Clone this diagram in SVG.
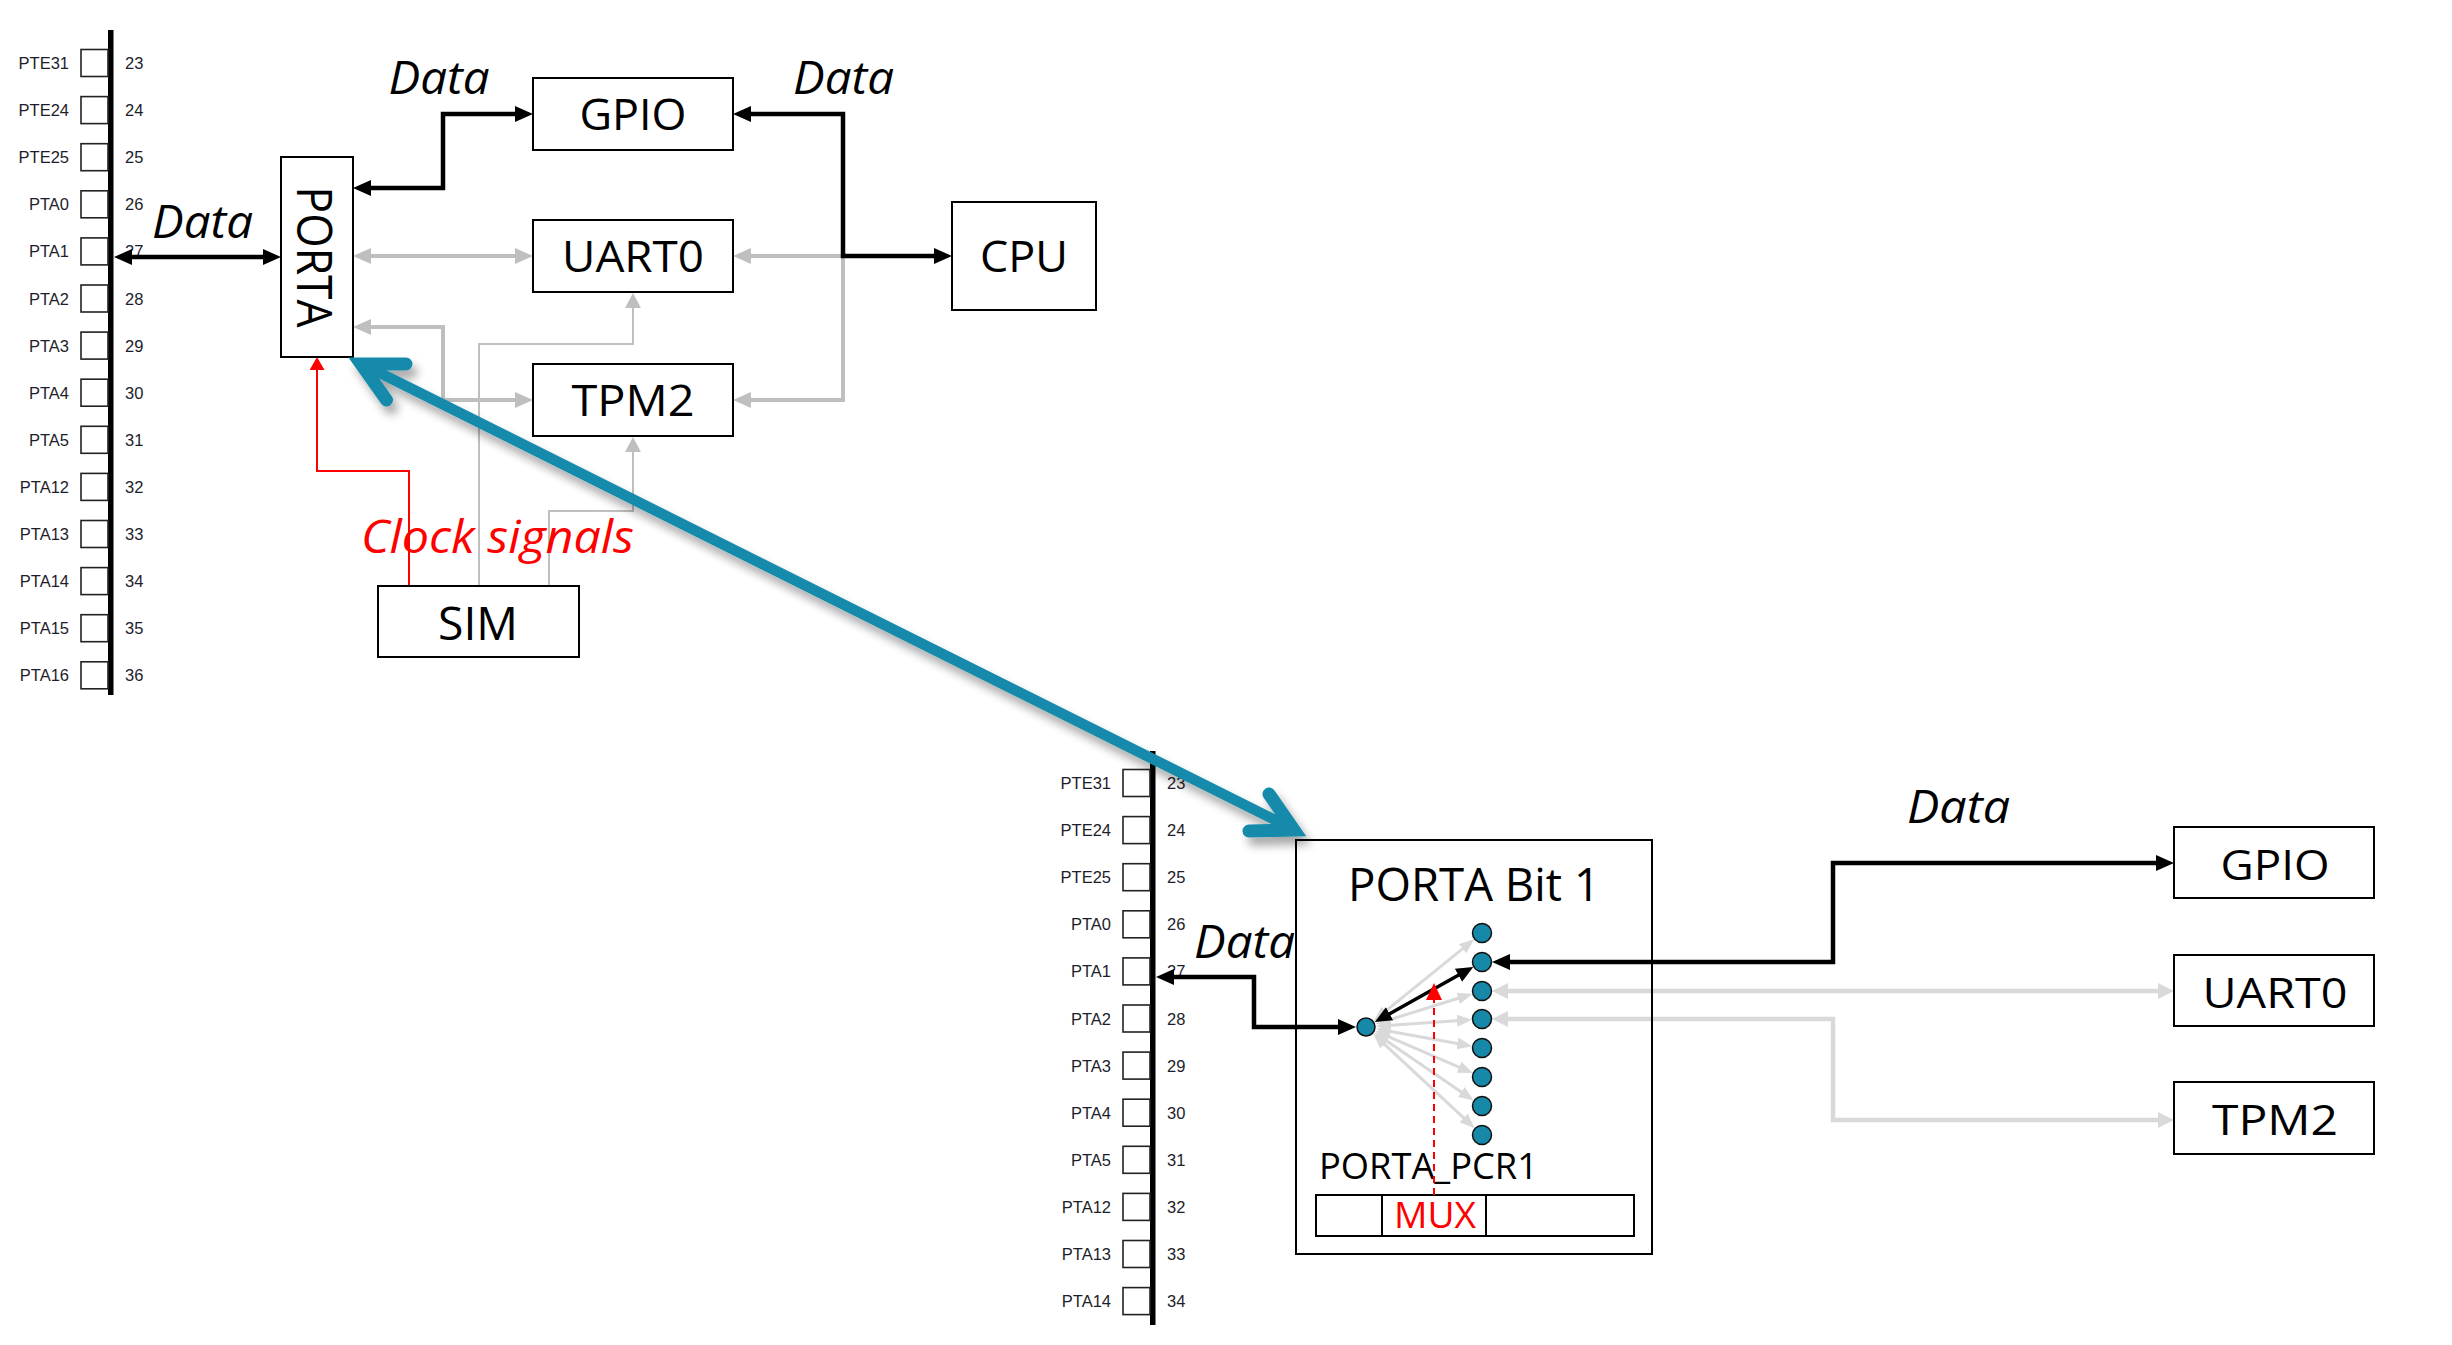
<svg xmlns="http://www.w3.org/2000/svg" width="2452" height="1345" viewBox="0 0 2452 1345">
<style>
.bg{fill:#fff}
.box{fill:#fff;stroke:#000;stroke-width:2}
.frame{fill:none;stroke:#000;stroke-width:2}
.lbl{font-family:"Open Sans","Liberation Sans",sans-serif;fill:#000;text-anchor:middle}
.it{font-style:italic}
.red{fill:#ff0000}
.pin{font-family:"Liberation Sans",Arial,sans-serif;font-size:16.5px;fill:#1d1d2b}
.pl{text-anchor:end}
.pinbox{fill:#fff;stroke:#222;stroke-width:1.6}
.bar{fill:#000}
.kb{fill:none;stroke:#000;stroke-width:4.5;marker-start:url(#ab);marker-end:url(#ab)}
.kg{fill:none;stroke:#bfbfbf;stroke-width:4;marker-start:url(#ag);marker-end:url(#ag)}
.kg1{fill:none;stroke:#bfbfbf;stroke-width:4;marker-end:url(#ag)}
.tg{fill:none;stroke:#bfbfbf;stroke-width:2;marker-end:url(#agt)}
.tr{fill:none;stroke:#ff0000;stroke-width:2;marker-end:url(#ar)}
.kl{fill:none;stroke:#d9d9d9;stroke-width:4.5;marker-start:url(#al);marker-end:url(#al)}
.fan{fill:none;stroke:#d9d9d9;stroke-width:3;marker-start:url(#alf);marker-end:url(#alf)}
.fanb{fill:none;stroke:#000;stroke-width:3.5;marker-start:url(#abf);marker-end:url(#abf)}
.dot{fill:#1789a8;stroke:#111;stroke-width:1.5}
.teal{fill:none;stroke:#138aab;stroke-width:10.5;stroke-linecap:round}
.chev{fill:none;stroke:#138aab;stroke-width:13;stroke-linecap:round;stroke-linejoin:miter;stroke-miterlimit:4}
</style>
<defs>
<marker id="ab" markerUnits="userSpaceOnUse" viewBox="0 0 18 16" markerWidth="18" markerHeight="16" refX="8" refY="8" orient="auto-start-reverse"><path d="M0,0 L18,8 L0,16 z" fill="#000"/></marker>
<marker id="ag" markerUnits="userSpaceOnUse" viewBox="0 0 18 16" markerWidth="18" markerHeight="16" refX="8" refY="8" orient="auto-start-reverse"><path d="M0,0 L18,8 L0,16 z" fill="#bfbfbf"/></marker>
<marker id="agt" markerUnits="userSpaceOnUse" viewBox="0 0 15 16" markerWidth="15" markerHeight="16" refX="7" refY="8" orient="auto-start-reverse"><path d="M0,0 L15,8 L0,16 z" fill="#bfbfbf"/></marker>
<marker id="ar" markerUnits="userSpaceOnUse" viewBox="0 0 13 15" markerWidth="13" markerHeight="15" refX="6" refY="7.5" orient="auto-start-reverse"><path d="M0,0 L13,7.5 L0,15 z" fill="#ff0000"/></marker>
<marker id="ard" markerUnits="userSpaceOnUse" viewBox="0 0 17 16" markerWidth="17" markerHeight="16" refX="1" refY="8" orient="auto-start-reverse"><path d="M0,0 L17,8 L0,16 z" fill="#ff0000"/></marker>
<marker id="al" markerUnits="userSpaceOnUse" viewBox="0 0 16 16" markerWidth="16" markerHeight="16" refX="7" refY="8" orient="auto-start-reverse"><path d="M0,0 L16,8 L0,16 z" fill="#d9d9d9"/></marker>
<marker id="alf" markerUnits="userSpaceOnUse" viewBox="0 0 15 12" markerWidth="15" markerHeight="12" refX="7" refY="6" orient="auto-start-reverse"><path d="M0,0 L15,6 L0,12 z" fill="#d9d9d9"/></marker>
<marker id="abf" markerUnits="userSpaceOnUse" viewBox="0 0 17 15" markerWidth="17" markerHeight="15" refX="8" refY="7.5" orient="auto-start-reverse"><path d="M0,0 L17,7.5 L0,15 z" fill="#000"/></marker>
<filter id="sh" x="-5%" y="-10%" width="115%" height="130%"><feDropShadow dx="5" dy="8" stdDeviation="5" flood-color="#000" flood-opacity="0.35"/></filter>
</defs>
<rect class="bg" x="0" y="0" width="2452" height="1345"/>

<g id="pins-top">
<rect class="bar" x="108" y="30" width="5.5" height="665"/>
<g id="pt0"><rect class="pinbox" x="81" y="49.5" width="27" height="27"/><text class="pin pl" x="69" y="69">PTE31</text><text class="pin" x="125" y="69">23</text></g>
<g id="pt1"><rect class="pinbox" x="81" y="96.6" width="27" height="27"/><text class="pin pl" x="69" y="116.1">PTE24</text><text class="pin" x="125" y="116.1">24</text></g>
<g id="pt2"><rect class="pinbox" x="81" y="143.7" width="27" height="27"/><text class="pin pl" x="69" y="163.2">PTE25</text><text class="pin" x="125" y="163.2">25</text></g>
<g id="pt3"><rect class="pinbox" x="81" y="190.8" width="27" height="27"/><text class="pin pl" x="69" y="210.3">PTA0</text><text class="pin" x="125" y="210.3">26</text></g>
<g id="pt4"><rect class="pinbox" x="81" y="237.9" width="27" height="27"/><text class="pin pl" x="69" y="257.4">PTA1</text><text class="pin" x="125" y="257.4">27</text></g>
<g id="pt5"><rect class="pinbox" x="81" y="285" width="27" height="27"/><text class="pin pl" x="69" y="304.5">PTA2</text><text class="pin" x="125" y="304.5">28</text></g>
<g id="pt6"><rect class="pinbox" x="81" y="332.1" width="27" height="27"/><text class="pin pl" x="69" y="351.6">PTA3</text><text class="pin" x="125" y="351.6">29</text></g>
<g id="pt7"><rect class="pinbox" x="81" y="379.2" width="27" height="27"/><text class="pin pl" x="69" y="398.7">PTA4</text><text class="pin" x="125" y="398.7">30</text></g>
<g id="pt8"><rect class="pinbox" x="81" y="426.3" width="27" height="27"/><text class="pin pl" x="69" y="445.8">PTA5</text><text class="pin" x="125" y="445.8">31</text></g>
<g id="pt9"><rect class="pinbox" x="81" y="473.4" width="27" height="27"/><text class="pin pl" x="69" y="492.9">PTA12</text><text class="pin" x="125" y="492.9">32</text></g>
<g id="pt10"><rect class="pinbox" x="81" y="520.5" width="27" height="27"/><text class="pin pl" x="69" y="540">PTA13</text><text class="pin" x="125" y="540">33</text></g>
<g id="pt11"><rect class="pinbox" x="81" y="567.6" width="27" height="27"/><text class="pin pl" x="69" y="587.1">PTA14</text><text class="pin" x="125" y="587.1">34</text></g>
<g id="pt12"><rect class="pinbox" x="81" y="614.7" width="27" height="27"/><text class="pin pl" x="69" y="634.2">PTA15</text><text class="pin" x="125" y="634.2">35</text></g>
<g id="pt13"><rect class="pinbox" x="81" y="661.8" width="27" height="27"/><text class="pin pl" x="69" y="681.3">PTA16</text><text class="pin" x="125" y="681.3">36</text></g>
</g>

<g id="pins-bottom" transform="translate(1042,720)">
<rect class="bar" x="108" y="31" width="5.5" height="574"/>
<g id="pb0"><rect class="pinbox" x="81" y="49.5" width="27" height="27"/><text class="pin pl" x="69" y="69">PTE31</text><text class="pin" x="125" y="69">23</text></g>
<g id="pb1"><rect class="pinbox" x="81" y="96.6" width="27" height="27"/><text class="pin pl" x="69" y="116.1">PTE24</text><text class="pin" x="125" y="116.1">24</text></g>
<g id="pb2"><rect class="pinbox" x="81" y="143.7" width="27" height="27"/><text class="pin pl" x="69" y="163.2">PTE25</text><text class="pin" x="125" y="163.2">25</text></g>
<g id="pb3"><rect class="pinbox" x="81" y="190.8" width="27" height="27"/><text class="pin pl" x="69" y="210.3">PTA0</text><text class="pin" x="125" y="210.3">26</text></g>
<g id="pb4"><rect class="pinbox" x="81" y="237.9" width="27" height="27"/><text class="pin pl" x="69" y="257.4">PTA1</text><text class="pin" x="125" y="257.4">27</text></g>
<g id="pb5"><rect class="pinbox" x="81" y="285" width="27" height="27"/><text class="pin pl" x="69" y="304.5">PTA2</text><text class="pin" x="125" y="304.5">28</text></g>
<g id="pb6"><rect class="pinbox" x="81" y="332.1" width="27" height="27"/><text class="pin pl" x="69" y="351.6">PTA3</text><text class="pin" x="125" y="351.6">29</text></g>
<g id="pb7"><rect class="pinbox" x="81" y="379.2" width="27" height="27"/><text class="pin pl" x="69" y="398.7">PTA4</text><text class="pin" x="125" y="398.7">30</text></g>
<g id="pb8"><rect class="pinbox" x="81" y="426.3" width="27" height="27"/><text class="pin pl" x="69" y="445.8">PTA5</text><text class="pin" x="125" y="445.8">31</text></g>
<g id="pb9"><rect class="pinbox" x="81" y="473.4" width="27" height="27"/><text class="pin pl" x="69" y="492.9">PTA12</text><text class="pin" x="125" y="492.9">32</text></g>
<g id="pb10"><rect class="pinbox" x="81" y="520.5" width="27" height="27"/><text class="pin pl" x="69" y="540">PTA13</text><text class="pin" x="125" y="540">33</text></g>
<g id="pb11"><rect class="pinbox" x="81" y="567.6" width="27" height="27"/><text class="pin pl" x="69" y="587.1">PTA14</text><text class="pin" x="125" y="587.1">34</text></g>
</g>

<g id="connectors">
<path class="kg1" d="M843,256 H743"/>
<path class="kg1" d="M843,256 V400 H743"/>
<path class="kg" d="M363,256 H523"/>
<path class="kg" d="M363,327 H443 V400 H523"/>
<path class="tg" d="M479,586 V344 H633 V301"/>
<path class="tg" d="M549,586 V511 H633 V445"/>
<path class="tr" d="M409,586 V471 H317 V364"/>
<path class="kb" d="M124,257 H271"/>
<path class="kb" d="M363,188 H443 V114 H523"/>
<path class="kb" d="M743,114 H843 V256 H942"/>

<path class="kl" d="M1501,991 H2165"/>
<path class="kl" d="M1501,1019 H1833 V1120 H2165"/>
<path class="kb" d="M1166,977 H1254 V1027 H1346"/>
<path class="kb" d="M1502,962 H1833 V863 H2164"/>
<path class="fan" d="M1380,1015.7 L1468,944.3"/>
<path class="fan" d="M1381.7,1018.2 L1466.3,970.8"/>
<path class="fan" d="M1383.2,1021.7 L1464.8,996.3"/>
<path class="fan" d="M1384,1025.8 L1464,1020.2"/>
<path class="fan" d="M1383.7,1030.2 L1464.3,1044.8"/>
<path class="fan" d="M1382.5,1034.1 L1465.5,1069.9"/>
<path class="fan" d="M1380.9,1037.1 L1467.1,1095.9"/>
<path class="fan" d="M1379.2,1039.3 L1468.8,1122.7"/>
<path class="fanb" d="M1382.6,1017.7 L1465.4,971.3"/>
</g>

<g id="GPIO"><rect class="box" x="533" y="78" width="200" height="72"/><text class="lbl" x="633" y="130" font-size="44" textLength="107" lengthAdjust="spacingAndGlyphs">GPIO</text></g>
<g id="UART0"><rect class="box" x="533" y="220" width="200" height="72"/><text class="lbl" x="633" y="272" font-size="44" textLength="142" lengthAdjust="spacingAndGlyphs">UART0</text></g>
<g id="TPM2"><rect class="box" x="533" y="364" width="200" height="72"/><text class="lbl" x="633" y="416" font-size="44" textLength="123" lengthAdjust="spacingAndGlyphs">TPM2</text></g>
<g id="CPU"><rect class="box" x="952" y="202" width="144" height="108"/><text class="lbl" x="1024" y="272" font-size="44" textLength="88" lengthAdjust="spacingAndGlyphs">CPU</text></g>
<g id="SIM"><rect class="box" x="378" y="586" width="201" height="71"/><text class="lbl" x="478" y="640" font-size="45" textLength="80" lengthAdjust="spacingAndGlyphs">SIM</text></g>
<g id="PORTA"><rect class="box" x="281" y="157" width="72" height="200"/><text class="lbl" transform="translate(297,257) rotate(90)" x="0" y="0" font-size="50" textLength="141" lengthAdjust="spacingAndGlyphs">PORTA</text></g>

<g id="GPIO-b"><rect class="box" x="2174" y="827" width="200" height="71"/><text class="lbl" x="2275" y="880" font-size="42" textLength="109" lengthAdjust="spacingAndGlyphs">GPIO</text></g>
<g id="UART0-b"><rect class="box" x="2174" y="955" width="200" height="71"/><text class="lbl" x="2275" y="1008" font-size="42" textLength="145" lengthAdjust="spacingAndGlyphs">UART0</text></g>
<g id="TPM2-b"><rect class="box" x="2174" y="1082" width="200" height="72"/><text class="lbl" x="2275" y="1135" font-size="42" textLength="126" lengthAdjust="spacingAndGlyphs">TPM2</text></g>

<g id="PORTA-Bit1">
<rect class="frame" x="1296" y="840" width="356" height="414"/>
<text class="lbl" x="1474" y="901" font-size="45" textLength="252" lengthAdjust="spacingAndGlyphs">PORTA Bit 1</text>
<circle class="dot" cx="1366" cy="1027" r="9"/>
<circle class="dot" cx="1482" cy="933" r="9.5"/>
<circle class="dot" cx="1482" cy="962" r="9.5"/>
<circle class="dot" cx="1482" cy="991" r="9.5"/>
<circle class="dot" cx="1482" cy="1019" r="9.5"/>
<circle class="dot" cx="1482" cy="1048" r="9.5"/>
<circle class="dot" cx="1482" cy="1077" r="9.5"/>
<circle class="dot" cx="1482" cy="1106" r="9.5"/>
<circle class="dot" cx="1482" cy="1135" r="9.5"/>
<text class="lbl" x="1428.5" y="1179" font-size="36" textLength="219" lengthAdjust="spacingAndGlyphs">PORTA_PCR1</text>
<rect class="frame" x="1316" y="1195" width="318" height="41"/>
<line x1="1382" y1="1195" x2="1382" y2="1236" stroke="#000" stroke-width="2"/>
<line x1="1486" y1="1195" x2="1486" y2="1236" stroke="#000" stroke-width="2"/>
<text class="lbl red" x="1435" y="1228" font-size="37" textLength="82" lengthAdjust="spacingAndGlyphs">MUX</text>
<path d="M1434,1195 V999" fill="none" stroke="#ff0000" stroke-width="2" stroke-dasharray="7 5" marker-end="url(#ard)"/>
</g>

<g id="labels">
<text class="lbl it" x="439" y="94" font-size="45" textLength="101" lengthAdjust="spacingAndGlyphs">Data</text>
<text class="lbl it" x="843.5" y="94" font-size="45" textLength="101" lengthAdjust="spacingAndGlyphs">Data</text>
<text class="lbl it" x="202.5" y="238" font-size="45" textLength="101" lengthAdjust="spacingAndGlyphs">Data</text>
<text class="lbl it" x="1244.5" y="958" font-size="45" textLength="101" lengthAdjust="spacingAndGlyphs">Data</text>
<text class="lbl it" x="1958.5" y="823" font-size="45" textLength="103" lengthAdjust="spacingAndGlyphs">Data</text>
<text class="lbl it red" x="497.5" y="553" font-size="46" textLength="273" lengthAdjust="spacingAndGlyphs">Clock signals</text>
</g>

<g id="link" filter="url(#sh)">
<path class="teal" d="M1289,827 L366,366"/>
<path class="chev" d="M406,364 L361,364 L386.5,400"/>
<path class="chev" d="M1249,831 L1294,830 L1269,794"/>
</g>
</svg>
